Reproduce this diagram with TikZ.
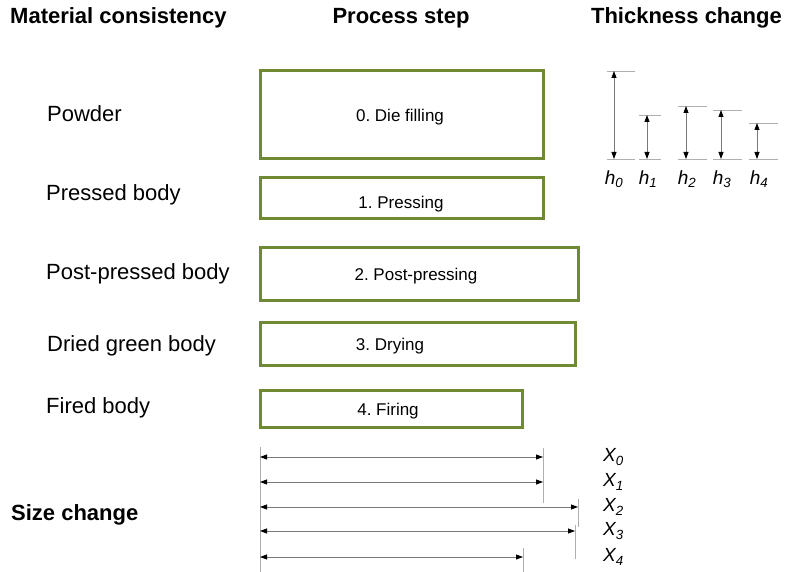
\documentclass[tikz,border=0pt]{standalone}
\usepackage{fontspec}
\setmainfont{Liberation Sans}
\usetikzlibrary{arrows.meta}
\definecolor{boxgreen}{RGB}{112,138,52}
\definecolor{dimgray}{RGB}{120,120,120}
\definecolor{tickgray}{RGB}{175,175,175}
\frenchspacing
\begin{document}
\begin{tikzpicture}[x=1pt,y=-1pt,
  heading/.style={font=\fontsize{22}{26}\selectfont\bfseries, inner sep=0pt},
  material/.style={font=\fontsize{22}{26}\selectfont, anchor=west, inner sep=0pt},
  stepbox/.style={draw=boxgreen, line width=3pt, inner sep=0pt},
  steptext/.style={font=\fontsize{17}{20}\selectfont, inner sep=0pt},
  dimline/.style={draw=dimgray, line width=0.8pt, {Triangle[length=7pt,width=5pt,color=black]}-{Triangle[length=7pt,width=5pt,color=black]}},
  tick/.style={draw=tickgray, line width=0.9pt},
  symb/.style={font=\fontsize{19}{22}\selectfont\itshape, inner sep=0pt}
]
\useasboundingbox (0,0) rectangle (790,572);

% column headings
\node[heading, anchor=west] (hmat) at (10,18) {Material consistency};
\node[heading] (hproc) at (401,18) {Process step};
\node[heading, anchor=east] (hthick) at (782,18) {Thickness change};

% material states
\node[material] (m0) at (47,114) {Powder};
\node[material] (m1) at (46,195) {Pressed body};
\node[material] (m2) at (46,274) {Post-pressed body};
\node[material] (m3) at (47,346) {Dried green body};
\node[material] (m4) at (46,408) {Fired body};

% process step boxes
\node[stepbox, minimum width=283pt, minimum height=88pt] (b0) at (401.5,115) {};
\node[stepbox, minimum width=283pt, minimum height=41pt] (b1) at (401.5,198.5) {};
\node[stepbox, minimum width=318pt, minimum height=52pt] (b2) at (419,274) {};
\node[stepbox, minimum width=315pt, minimum height=43pt] (b3) at (417.5,343.5) {};
\node[stepbox, minimum width=262pt, minimum height=37pt] (b4) at (391,408.5) {};

\node[steptext] (t0) at (400,117.5) {0. Die filling};
\node[steptext] (t1) at (401,204.5) {1. Pressing};
\node[steptext] (t2) at (416,276.5) {2. Post-pressing};
\node[steptext] (t3) at (390,346.5) {3. Drying};
\node[steptext] (t4) at (388,411.5) {4. Firing};

% thickness change: reference lines and arrows
\coordinate (h0t) at (614,71);  \coordinate (h0b) at (614,159);
\coordinate (h1t) at (647,115); \coordinate (h1b) at (647,159);
\coordinate (h2t) at (686,106); \coordinate (h2b) at (686,159);
\coordinate (h3t) at (721,110); \coordinate (h3b) at (721,159);
\coordinate (h4t) at (757,123); \coordinate (h4b) at (757,159);
\draw[tick] (607,71) -- (635,71);  \draw[tick] (607,159) -- (635,159);
\draw[tick] (639,115) -- (661,115); \draw[tick] (639,159) -- (661,159);
\draw[tick] (678,106) -- (707,106); \draw[tick] (678,159) -- (707,159);
\draw[tick] (713,110) -- (742,110); \draw[tick] (713,159) -- (742,159);
\draw[tick] (749,123) -- (778,123); \draw[tick] (749,159) -- (778,159);
\foreach \i in {0,...,4}{
  \draw[dimline] (h\i t) -- (h\i b);
}
\node[symb] (lh0) at (614,179) {h\textsubscript{0}};
\node[symb] (lh1) at (648,179) {h\textsubscript{1}};
\node[symb] (lh2) at (687,179) {h\textsubscript{2}};
\node[symb] (lh3) at (722,179) {h\textsubscript{3}};
\node[symb] (lh4) at (759,179) {h\textsubscript{4}};

% size change: extension lines and arrows
\node[heading, anchor=west] (hsize) at (11,515) {Size change};
\coordinate (xl0) at (260,457); \coordinate (xr0) at (543,457);
\coordinate (xl1) at (260,482); \coordinate (xr1) at (543,482);
\coordinate (xl2) at (260,507); \coordinate (xr2) at (578,507);
\coordinate (xl3) at (260,531); \coordinate (xr3) at (575,531);
\coordinate (xl4) at (260,557); \coordinate (xr4) at (523,557);
\draw[tick] (260,447) -- (260,572);
\draw[tick] (543,448) -- (543,503);
\draw[tick] (578,499) -- (578,527);
\draw[tick] (575,525) -- (575,559);
\draw[tick] (523,548) -- (523,572);
\foreach \i in {0,...,4}{
  \draw[dimline] (xl\i) -- (xr\i);
}
\node[symb, anchor=west] (lx0) at (603,457) {X\textsubscript{0}};
\node[symb, anchor=west] (lx1) at (603,482) {X\textsubscript{1}};
\node[symb, anchor=west] (lx2) at (603,507) {X\textsubscript{2}};
\node[symb, anchor=west] (lx3) at (603,531) {X\textsubscript{3}};
\node[symb, anchor=west] (lx4) at (603,557) {X\textsubscript{4}};
\end{tikzpicture}
\end{document}
